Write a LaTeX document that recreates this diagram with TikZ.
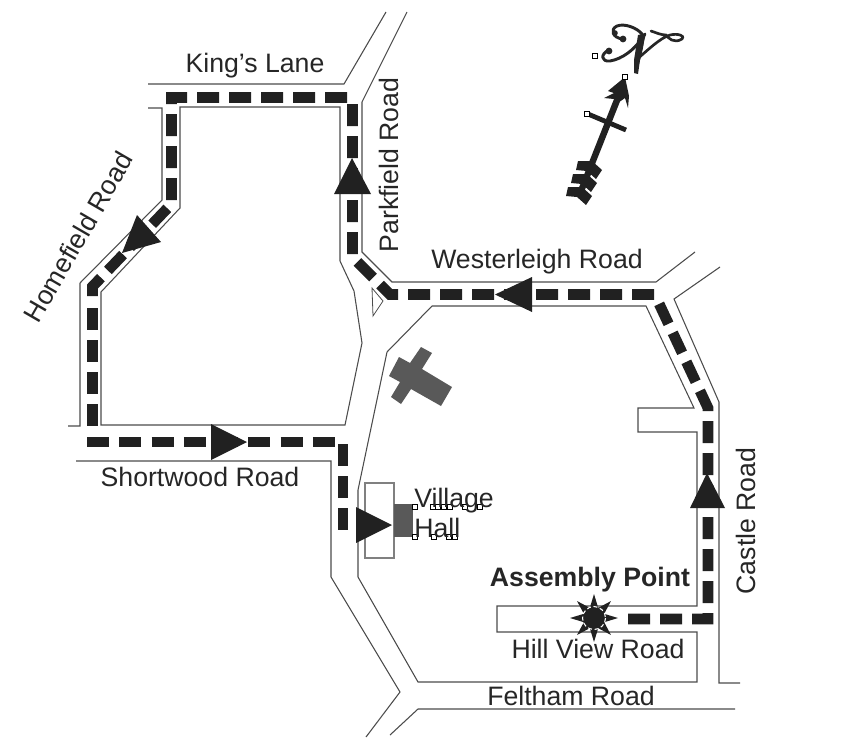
\documentclass[tikz,border=0pt]{standalone}
\usepackage{fontspec}
\setmainfont{Liberation Sans}
\begin{document}
\begin{tikzpicture}[x=0.75pt,y=-0.75pt,
  road/.style={draw=black!70,line width=0.8pt,line join=miter},
  route/.style={draw=black!87,line width=8pt,dash pattern=on 16.5pt off 7.5pt,line join=miter},
  head/.style={fill=black!87,draw=none},
  lab/.style={font=\fontsize{20}{22}\selectfont,text=black!85,inner sep=0pt},
  grayshape/.style={fill=black!65,draw=none},
  handle/.style={draw=black,fill=white,line width=0.6pt,minimum size=3.4pt,inner sep=0pt},
  ink/.style={draw=black!85,line cap=round,line join=round}]
\useasboundingbox (0,0) rectangle (852,740);
% roads
\draw[road] (148,84) -- (344,84) -- (386,12);
\draw[road] (148,108) -- (162,108) -- (162,200) -- (80,283) -- (80,426) -- (68,426);
\draw[road] (180,107) -- (180,208) -- (101,292) -- (101,425) -- (345,425) -- (362,343) -- (354,291) -- (340,261) -- (340,107) -- cycle;
\draw[road] (407,12) -- (362,102) -- (362,252) -- (392,282) -- (656,282) -- (695,252);
\draw[road] (76,461) -- (331,461) -- (331,577) -- (400,692) -- (366,737);
\draw[road] (720,267) -- (674,299) -- (719,402) -- (719,683) -- (740,683);
\draw[road] (390,735) -- (418,709) -- (735,709);
\draw[road] (358,577) -- (358,490) -- (387,352) -- (432,306) -- (646,306) -- (694,408) -- (638,408) -- (638,432) -- (697,432) -- (697,606) -- (497,606) -- (497,632) -- (697,632) -- (697,682) -- (418,682) -- cycle;
\draw[road,line width=0.6pt] (372,288) -- (383,301) -- (373,316) -- cycle;
% route
\draw[route] (628,619) -- (708,619) -- (708,408) -- (655,295);
\draw[route] (654,294.5) -- (390,294.5) -- (352.5,257) -- (352.5,103);
\draw[route] (347,97.5) -- (171.5,97.5) -- (171.5,204) -- (92.5,286.5) -- (92.5,296);
\draw[route] (92.5,308) -- (92.5,427);
\draw[route,dash pattern=on 16.5pt off 7.7pt] (87,442) -- (335,442);
\draw[route] (343,444) -- (343,531);
% arrowheads
\fill[head] (352,158) -- (371,194) -- (334,194) -- cycle;
\fill[head] (137,215) -- (161,242) -- (122,253) -- cycle;
\fill[head] (495,294.5) -- (532,277) -- (532,312) -- cycle;
\fill[head] (247,442) -- (211,424) -- (211,460) -- cycle;
\fill[head] (707,473) -- (690,508) -- (725,508) -- cycle;
% village hall
\draw[draw=black!50,fill=white,line width=0.8pt] (365,483) rectangle (394,558);
\fill[head] (392,525) -- (356,507) -- (356,543) -- cycle;
\fill[grayshape] (394,504) rectangle (413,537);
% church
\fill[grayshape] (421,347) -- (432,353) -- (422,369) -- (452,387) -- (441,406) -- (411,389) -- (401,404) -- (391,397) -- (400,382) -- (389,376) -- (399,357) -- (410,363) -- cycle;
% star
\fill[black!87] (618,618) \foreach \a in {22.5,45,...,337.5} { -- ({594+(mod(\a,45)==0 ? 24 : 11)*cos(\a)},{618+(mod(\a,45)==0 ? 24 : 11)*sin(\a)}) } -- cycle;
\draw[white,line width=0.8pt,dash pattern=on 3pt off 2pt] (594,618) circle (11.5);
\fill[black!87] (594,618) circle (9.5);
% north arrow
\fill[head] (625,77) -- (608,91) -- (614,93) -- (604,98) -- (614,99) -- (578,190) -- (584,192) -- (620,101.5) -- (625,98) -- (628,108) -- (629,96) -- cycle;
\draw[draw=black!87,line width=3.6pt] (588,114) -- (626,130);
\foreach \d in {0,1,2}
  \fill[head,shift={({-5*\d},{13*\d})}] (578,161) -- (592,161) -- (602,170) -- (596,179) -- (587,171) -- (576,170) -- cycle;
% N flourish
\draw[ink,line width=2.2pt] (623,39) .. controls (612,38) and (610,29) .. (617,26) .. controls (625,23) and (637,28) .. (642,34) .. controls (644,45) and (638,60) .. (636,70);
\fill[black!85] (623,39) circle (3.4) (615,33) circle (2.8) (609,51) circle (3.4);
\fill[black!85] (646,33) -- (638,35) -- (634,60) -- (634,73) -- (638,74) -- (640,60) -- cycle;
\draw[ink,line width=2.2pt] (609,50) .. controls (600,54) and (601,62) .. (610,61) .. controls (622,59) and (635,50) .. (645,34);
\draw[ink,line width=2pt] (636,60) .. controls (648,50) and (660,38) .. (670,35) .. controls (678,33) and (686,36) .. (682,39) .. controls (674,44) and (668,38) .. (666,35) .. controls (661,35) and (657,33) .. (651,31);
% handles
\foreach \x/\y [count=\i] in {415/507,433/507,438/507,444/507,450/507,465/507,480/507,415/537,434/537,449/537,455/537,595/56,625/77,587/114}
  \node[handle] (h\i) at (\x,\y) {};
% labels
\node[lab] (kings) at (255,66) {King's Lane};
\node[lab,rotate=90] (park) at (389,165) {Parkfield Road};
\node[lab,rotate=60] (home) at (78,237) {Homefield Road};
\node[lab] (west) at (537,262) {Westerleigh Road};
\node[lab] (short) at (200,477) {Shortwood Road};
\node[lab,rotate=90] (castle) at (746,521) {Castle Road};
\node[lab] (hill) at (598,649) {Hill View Road};
\node[lab] (felt) at (571,696) {Feltham Road};
\node[lab,font=\fontsize{20}{22}\selectfont\bfseries] (assy) at (590,580) {Assembly Point};
\node[lab,anchor=base west] (vil) at (414,507) {Village};
\node[lab,anchor=base west] (hall) at (414,537) {Hall};
\end{tikzpicture}
\end{document}
